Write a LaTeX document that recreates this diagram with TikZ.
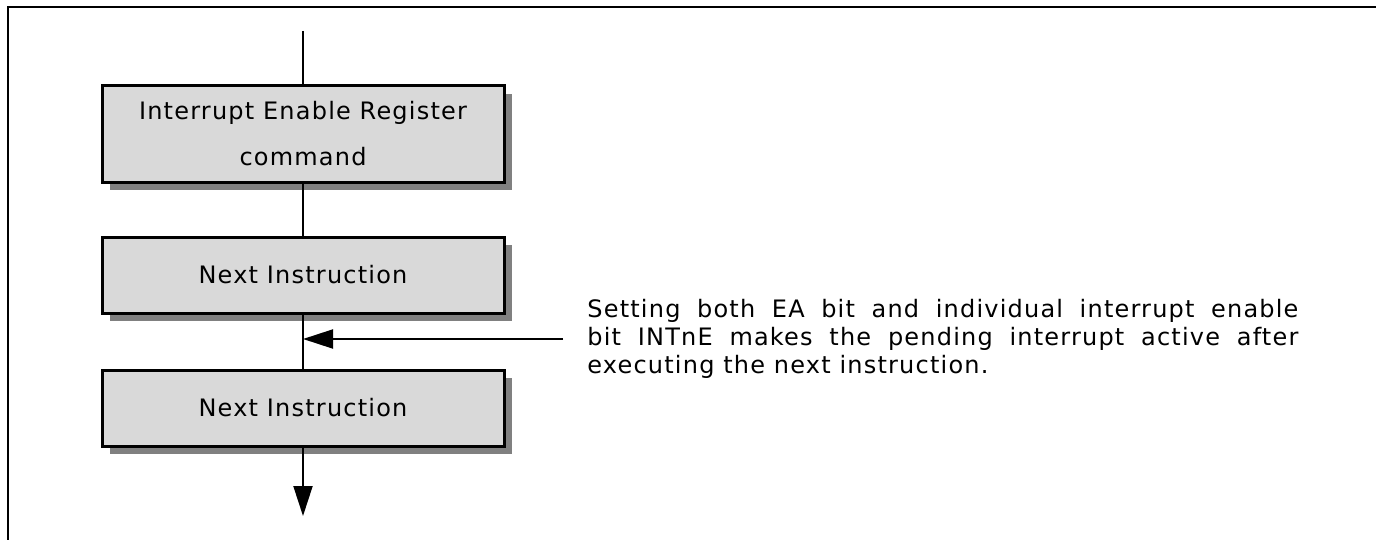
\documentclass[tikz,border=0pt]{standalone}
\usepackage{fontspec}
\setmainfont{DejaVu Sans}[LetterSpace=5]
\usepackage{tikz}
\usetikzlibrary{arrows.meta,shadows}

\definecolor{boxgray}{RGB}{217,217,217}
\definecolor{shadowgray}{RGB}{128,128,128}

\begin{document}
\begin{tikzpicture}[x=0.5pt, y=-0.5pt,
    instrbox/.style={draw, line width=1.5pt, fill=boxgray, minimum width=201pt,
        align=center, font=\fontsize{12}{23}\selectfont,
        drop shadow={shadow xshift=4pt, shadow yshift=-4pt, fill=shadowgray, opacity=1}},
    flow/.style={line width=1pt},
    tip/.style={-{Triangle[length=15pt, width=9.5pt]}}]

    % Set picture size
    \useasboundingbox (0,0) rectangle (1376,540);

    % Draw frame (top and left edges only)
    \draw[line width=1.2pt] (8,540) -- (8,7) -- (1376,7);

    % Draw instruction boxes
    \node[instrbox, minimum height=48pt] at (303,134) (ierbox) {Interrupt Enable Register \\ command};
    \node[instrbox, minimum height=38pt] at (303,275) (nextone) {Next Instruction};
    \node[instrbox, minimum height=38pt] at (303,408) (nexttwo) {Next Instruction};

    % Draw free ends of the flow
    \coordinate (start) at (303,31);
    \coordinate (finish) at (303,516);

    % Draw flow lines between boxes
    \draw[flow] (start) -- (ierbox);
    \draw[flow] (ierbox) -- (nextone);
    \draw[flow] (nextone) -- (nexttwo);
    \draw[flow, tip] (nexttwo) -- (finish);

    % Draw note and arrow pointing to the flow
    \node[anchor=west, inner xsep=12pt, inner ysep=0pt, text width=355.5pt, align=justify,
        font=\fontsize{12}{14}\selectfont] at (563,339) (note)
        {Setting both EA bit and individual interrupt enable\linebreak
         bit INTnE makes the pending interrupt active after\linebreak
         executing the next instruction.};
    \draw[flow, tip] (note.west) -- (note.west -| nextone.south);
\end{tikzpicture}
\end{document}
